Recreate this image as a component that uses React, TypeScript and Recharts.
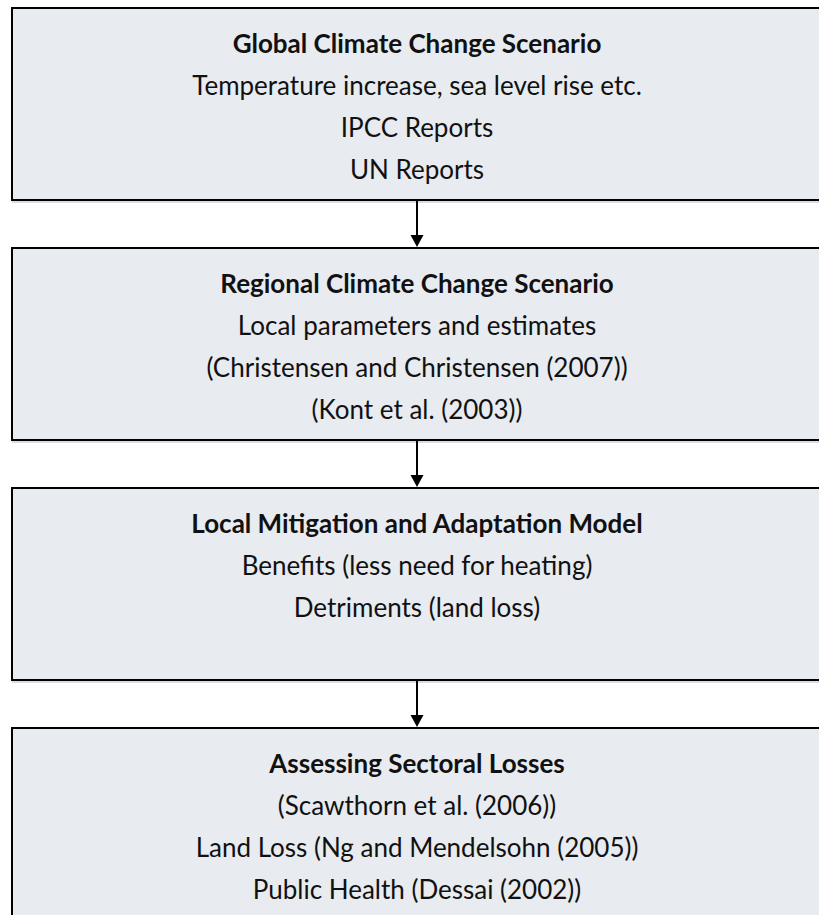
import { ComposedChart, XAxis, YAxis, ReferenceArea, ReferenceLine, Scatter } from 'recharts';

const titles = [
  'Global Climate Change Scenario',
  'Regional Climate Change Scenario',
  'Local Mitigation and Adaptation Model',
  'Assessing Sectoral Losses',
];

const details = [
  ['Temperature increase, sea level rise etc.', 'IPCC Reports', 'UN Reports'],
  ['Local parameters and estimates', '(Christensen and Christensen (2007))', '(Kont et al. (2003))'],
  ['Benefits (less need for heating)', 'Detriments (land loss)'],
  ['(Scawthorn et al. (2006))', 'Land Loss (Ng and Mendelsohn (2005))', 'Public Health (Dessai (2002))'],
];

// vertical extent of each box, in rows of the flow
const boxTop = [0, 5, 10, 15];
const boxBottom = [4, 9, 14, 19];

const FILL = '#e8ebf0';
const INK = '#111';
const FONT = 'Lato, "Open Sans", sans-serif';

// one point per text line, placed inside its box
const rows = titles.flatMap((title, i) =>
  [title, ...details[i]].map((text, j) => ({
    x: 0.5,
    y: boxTop[i] + 0.94 + 0.875 * j,
    text,
    bold: j === 0,
  }))
);

const TextMark = (props: any) => {
  const { cx, cy, payload } = props;
  return (
    <text
      x={cx}
      y={cy}
      textAnchor="middle"
      fontFamily={FONT}
      fontSize={26}
      fontWeight={payload.bold ? 700 : 400}
      fill={INK}
    >
      {payload.text}
    </text>
  );
};

// box that runs off the right edge: border on top, left and bottom only
const Box = (props: any) => {
  const { x, y, width, height } = props;
  const r = x + width;
  const b = y + height;
  return (
    <g>
      <rect x={x} y={y} width={width} height={height} fill={FILL} />
      <line x1={x} y1={b + 2} x2={r} y2={b + 2} stroke="#cfd1d4" strokeWidth={1.5} />
      <path d={`M${r},${y} L${x},${y} L${x},${b} L${r},${b}`} fill="none" stroke="#000" strokeWidth={2} />
    </g>
  );
};

const Arrow = (props: any) => {
  const { x1, y1, x2, y2 } = props;
  const head = 13;
  return (
    <g>
      <line x1={x1} y1={y1} x2={x2} y2={y2 - head + 1} stroke="#000" strokeWidth={2} />
      <polygon points={`${x2 - 6.5},${y2 - head} ${x2 + 6.5},${y2 - head} ${x2},${y2 - 1}`} fill="#000" />
    </g>
  );
};

export default function App() {
  return (
    <div style={{ position: 'absolute', left: 0, top: 0, width: 819, height: 915, overflow: 'hidden', background: '#fff' }}>
      <ComposedChart width={870} height={920} data={rows} margin={{ top: 8, right: 48, bottom: 0, left: 12 }}>
        <XAxis type="number" dataKey="x" domain={[0, 1]} hide />
        <YAxis type="number" dataKey="y" domain={[0, 19]} reversed hide />
        {boxTop.map((t, i) => (
          <ReferenceArea
            key={`box-${i}`}
            x1={0}
            x2={1.04}
            y1={t}
            y2={boxBottom[i]}
            ifOverflow="visible"
            shape={<Box />}
          />
        ))}
        {boxBottom.slice(0, -1).map((b, i) => (
          <ReferenceLine
            key={`arrow-${i}`}
            segment={[{ x: 0.5, y: b }, { x: 0.5, y: boxTop[i + 1] }]}
            shape={<Arrow />}
          />
        ))}
        <Scatter data={rows} dataKey="y" shape={<TextMark />} isAnimationActive={false} />
      </ComposedChart>
    </div>
  );
}
